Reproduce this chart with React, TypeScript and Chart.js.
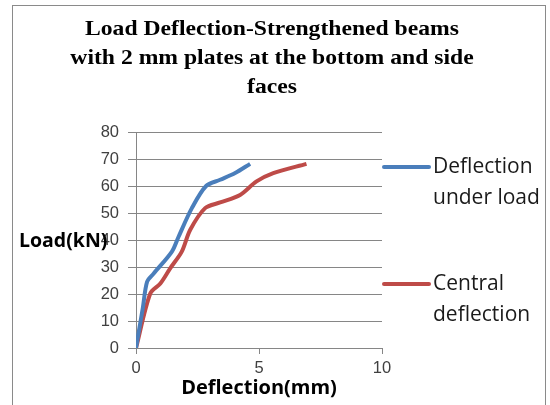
import React, { useEffect, useRef } from "react";
import { Chart, registerables } from "chart.js";
Chart.register(...registerables);

const titleLines = [
  "Load Deflection-Strengthened beams",
  "with 2 mm plates at the bottom and side",
  "faces",
];
const xTitle = "Deflection(mm)";
const yTitle = "Load(kN)";

const seriesNames = ["Deflection|under load", "Central|deflection"];
const seriesColors = ["#4A7EBB", "#BE4B48"];

const underLoadX = [0, 0.28, 0.45, 0.72, 1.46, 1.73, 2.27, 2.85, 3.42, 4.03, 4.64];
const underLoadY = [0, 15, 24.5, 27.6, 35.7, 41.2, 51.8, 60, 62.3, 64.8, 68.2];

const centralX = [0, 0.58, 0.99, 1.39, 1.86, 2.2, 2.81, 3.42, 4.23, 4.9, 5.58, 6.93];
const centralY = [0, 20.2, 23.9, 29.5, 35.7, 43.7, 51.8, 53.9, 56.7, 61.7, 64.8, 68.2];

const xMin = 0, xMax = 10, xStep = 5;
const yMin = 0, yMax = 80, yStep = 10;

const gridColor = "#868686";
const tickFont = '"Liberation Sans", sans-serif';
const legendFont = '"Open Sans", sans-serif';

export default function App() {
  const ref = useRef<HTMLCanvasElement>(null);

  useEffect(() => {
    const overlay = {
      id: "overlay",
      beforeDraw(chart: any) {
        const ctx = chart.ctx;
        ctx.save();
        ctx.fillStyle = "#ffffff";
        ctx.fillRect(0, 0, chart.width, chart.height);
        ctx.strokeStyle = "#8a8a8a";
        ctx.lineWidth = 1;
        ctx.strokeRect(12.5, 5.5, 533, 420);
        ctx.restore();
      },
      afterDraw(chart: any) {
        const ctx = chart.ctx;
        const area = chart.chartArea;
        ctx.save();
        // Title
        ctx.fillStyle = "#000";
        ctx.textAlign = "center";
        ctx.textBaseline = "middle";
        ctx.save();
        ctx.translate(272, 0);
        ctx.scale(1.1, 1);
        ctx.font = 'bold 21.5px "Liberation Serif", serif';
        titleLines.forEach((t, i) => ctx.fillText(t, 0, 29 + i * 29));
        ctx.restore();
        // Axis titles
        ctx.font = 'bold 19.5px "Open Sans", sans-serif';
        ctx.textAlign = "left";
        ctx.fillText(yTitle, 19, 241);
        ctx.textAlign = "center";
        ctx.font = 'bold 20px "Open Sans", sans-serif';
        ctx.fillText(xTitle, 259, 388);
        // Legend
        const legendY = [167, 284];
        chart.data.datasets.forEach((ds: any, i: number) => {
          const y = legendY[i];
          ctx.strokeStyle = ds.borderColor;
          ctx.lineWidth = 4;
          ctx.lineCap = "round";
          ctx.beginPath();
          ctx.moveTo(area.right + 2, y);
          ctx.lineTo(area.right + 47, y);
          ctx.stroke();
          ctx.fillStyle = "#1a1a1a";
          ctx.font = `21px ${legendFont}`;
          ctx.textAlign = "left";
          ctx.textBaseline = "middle";
          String(ds.label)
            .split("|")
            .forEach((ln: string, j: number) => ctx.fillText(ln, area.right + 51, y + j * 31));
        });
        ctx.restore();
      },
    };

    const chart = new Chart(ref.current as HTMLCanvasElement, {
      type: "scatter",
      data: {
        datasets: [
          {
            label: seriesNames[0],
            data: underLoadX.map((x, i) => ({ x, y: underLoadY[i] })),
            showLine: true,
            borderColor: seriesColors[0],
            backgroundColor: seriesColors[0],
            borderWidth: 4,
            pointRadius: 0,
            tension: 0.3,
            fill: false,
          },
          {
            label: seriesNames[1],
            data: centralX.map((x, i) => ({ x, y: centralY[i] })),
            showLine: true,
            borderColor: seriesColors[1],
            backgroundColor: seriesColors[1],
            borderWidth: 4,
            pointRadius: 0,
            tension: 0.3,
            fill: false,
          },
        ],
      },
      options: {
        responsive: false,
        animation: false,
        devicePixelRatio: 1,
        layout: { padding: { left: 0, right: 168, top: 132, bottom: 0 } },
        plugins: {
          legend: { display: false },
          tooltip: { enabled: false },
          title: { display: false },
        },
        scales: {
          x: {
            type: "linear",
            min: xMin,
            max: xMax,
            ticks: {
              stepSize: xStep,
              color: "#404040",
              font: { family: tickFont, size: 16.5 },
              padding: 5,
              maxRotation: 0,
            },
            grid: { drawOnChartArea: false, drawTicks: true, tickLength: 6, color: gridColor },
            border: { color: gridColor },
            afterFit(s: any) {
              s.height = 57;
            },
          },
          y: {
            type: "linear",
            min: yMin,
            max: yMax,
            ticks: {
              stepSize: yStep,
              color: "#404040",
              font: { family: tickFont, size: 16.5 },
              padding: 9,
            },
            grid: { color: gridColor, tickLength: 8 },
            border: { color: gridColor },
            afterFit(s: any) {
              s.width = 136;
            },
          },
        },
      },
      plugins: [overlay],
    } as any);
    return () => chart.destroy();
  }, []);

  return (
    <div style={{ position: "absolute", left: 0, top: 0, width: 550, height: 405 }}>
      <canvas ref={ref} width={550} height={405} style={{ width: 550, height: 405, display: "block" }} />
    </div>
  );
}
